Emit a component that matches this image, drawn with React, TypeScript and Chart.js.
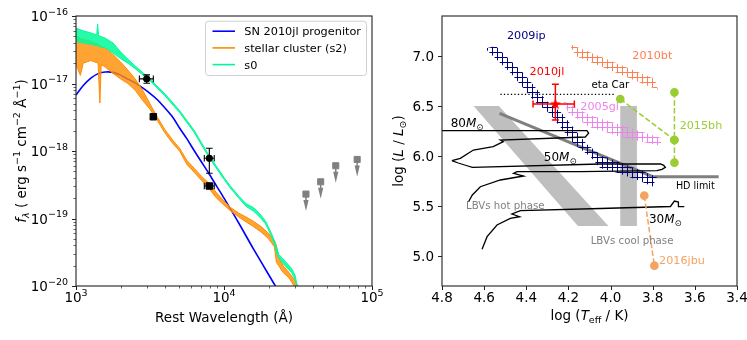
import React, { useEffect, useRef } from 'react';
import { Chart, registerables } from 'chart.js';

Chart.register(...registerables);

const FONT = '"DejaVu Sans", "Liberation Sans", Arial, sans-serif';

// ================= Left panel: SED =================
const wavelengthMajor = [1e3, 1e4, 1e5];
const wavelengthExp = ['3', '4', '5'];
const fluxMajor = [1e-20, 1e-19, 1e-18, 1e-17, 1e-16];
const fluxExp = ['−20', '−19', '−18', '−17', '−16'];

// SN 2010jl progenitor (blue)
const progWave = [1000, 1120, 1260, 1410, 1580, 1780, 2000, 2240, 2510, 2820, 3160, 3550, 3980, 4470, 5010, 5620, 6310, 7080, 7940, 8910, 10000, 12600, 15800, 20000, 23400];
const progFlux = [6.76e-18, 9.33e-18, 1.2e-17, 1.4e-17, 1.48e-17, 1.46e-17, 1.33e-17, 1.16e-17, 1.02e-17, 8.61e-18, 7.16e-18, 5.75e-18, 4.37e-18, 3.24e-18, 2.19e-18, 1.51e-18, 1.0e-18, 6.76e-19, 4.57e-19, 3.02e-19, 2.0e-19, 8.51e-20, 3.55e-20, 1.48e-20, 8.3e-21];

// stellar cluster (s2) (orange) - noisy spectrum envelope
const s2Wave = [1000, 1070, 1120, 1260, 1410, 1450, 1480, 1580, 1780, 2000, 2240, 2510, 2820, 3160, 3550, 3980, 4470, 5010, 5620, 6310, 7080, 7940, 8910, 10000, 10960, 12600, 14100, 15800, 17800, 20000, 21900, 22600, 23400, 25100, 27500, 30200, 31600];
const s2Upper = [5.01e-17, 4.68e-17, 4.47e-17, 4.27e-17, 3.8e-17, 3.63e-17, 3.55e-17, 3.31e-17, 2.69e-17, 2.09e-17, 1.58e-17, 1.17e-17, 7.94e-18, 5.01e-18, 3.16e-18, 2.09e-18, 1.48e-18, 1.1e-18, 7.24e-19, 5.5e-19, 4.17e-19, 3.31e-19, 2.4e-19, 1.82e-19, 1.48e-19, 1.2e-19, 1.05e-19, 9.12e-20, 7.59e-20, 6.03e-20, 4.68e-20, 3.98e-20, 2.63e-20, 2.0e-20, 1.58e-20, 1.2e-20, 1.0e-20];
const s2Lower = [1.91e-17, 1.32e-17, 2.0e-17, 2.19e-17, 2.0e-17, 5.13e-18, 1.91e-17, 1.74e-17, 1.41e-17, 1.17e-17, 1.0e-17, 7.94e-18, 5.62e-18, 4.17e-18, 2.82e-18, 1.86e-18, 1.32e-18, 1.0e-18, 6.31e-19, 4.79e-19, 3.63e-19, 2.75e-19, 2.0e-19, 1.58e-19, 1.32e-19, 1.05e-19, 8.91e-20, 7.59e-20, 6.31e-20, 5.01e-20, 3.8e-20, 2.24e-20, 2.0e-20, 1.58e-20, 1.32e-20, 9.5e-21, 7.9e-21];

// s0 (green) - noisy spectrum envelope
const s0Wave = [1000, 1120, 1260, 1380, 1400, 1420, 1580, 1780, 2000, 2240, 2510, 3160, 3980, 5010, 6310, 7940, 10000, 10960, 12600, 14100, 15800, 16600, 17800, 19100, 20900, 22100, 22600, 23400, 25100, 28600, 30200, 31600];
const s0Upper = [6.61e-17, 6.03e-17, 5.62e-17, 5.25e-17, 7.59e-17, 5.13e-17, 4.68e-17, 3.98e-17, 2.95e-17, 2.29e-17, 1.82e-17, 1.17e-17, 7.08e-18, 3.98e-18, 2.0e-18, 8.51e-19, 4.07e-19, 3.09e-19, 2.14e-19, 1.66e-19, 1.45e-19, 1.32e-19, 1.12e-19, 9.12e-20, 6.03e-20, 4.47e-20, 3.8e-20, 2.95e-20, 2.51e-20, 1.82e-20, 1.45e-20, 8.9e-21];
const s0Lower = [4.17e-17, 3.98e-17, 3.8e-17, 3.63e-17, 3.63e-17, 3.55e-17, 3.39e-17, 2.82e-17, 2.34e-17, 2.0e-17, 1.66e-17, 1.1e-17, 6.61e-18, 3.72e-18, 1.86e-18, 7.94e-19, 3.8e-19, 2.88e-19, 2.0e-19, 1.51e-19, 1.29e-19, 1.17e-19, 1.0e-19, 8.32e-20, 5.5e-20, 3.98e-20, 3.16e-20, 2.63e-20, 2.14e-20, 1.58e-20, 1.26e-20, 8.3e-21];

// photometry (black circles with error bars)
const detWave = [3005, 7960];
const detFlux = [1.17e-17, 7.8e-19];
const detWaveLo = [2680, 7360];
const detWaveHi = [3330, 8590];
const detFluxLo = [1.01e-17, 4.68e-19];
const detFluxHi = [1.34e-17, 1.1e-18];
// photometry (black squares)
const sqWave = [3330, 7960];
const sqFlux = [3.22e-18, 3.03e-19];
const sqWaveLo = [3330, 7360];
const sqWaveHi = [3330, 8590];
// upper limits (grey squares with arrows)
const limWave = [35800, 45000, 56900, 79400];
const limFlux = [2.3e-19, 3.5e-19, 6.05e-19, 7.5e-19];

const legendLabels = ['SN 2010jl progenitor', 'stellar cluster (s2)', 's0'];

// ================= Right panel: HRD =================
const teffTicks = [4.8, 4.6, 4.4, 4.2, 4.0, 3.8, 3.6, 3.4];
const lumTicks = [5.0, 5.5, 6.0, 6.5, 7.0];

const track80T = [4.82, 4.112, 4.104, 4.12, 4.523, 4.509, 4.557, 4.651, 4.713, 4.753];
const track80L = [6.253, 6.253, 6.227, 6.19, 6.16, 6.143, 6.093, 6.06, 5.977, 5.953];
const track50T = [4.753, 4.723, 4.685, 4.656, 4.049, 3.763, 3.748, 3.74, 3.756, 3.78, 4.144, 4.444, 4.46, 4.413, 4.523, 4.618, 4.656, 4.674];
const track50L = [5.953, 5.93, 5.905, 5.887, 5.92, 5.92, 5.907, 5.887, 5.867, 5.853, 5.843, 5.843, 5.827, 5.8, 5.76, 5.693, 5.61, 5.543];
const track30T = [4.61, 4.586, 4.539, 4.476, 4.432, 4.468, 4.428, 4.049, 3.716, 3.697, 3.678, 3.678, 3.65];
const track30L = [5.067, 5.193, 5.31, 5.377, 5.393, 5.42, 5.453, 5.475, 5.495, 5.55, 5.54, 5.495, 5.493];

const hdT = [4.527, 3.8, 3.487];
const hdL = [6.427, 5.793, 5.793];
const etaT = [4.523, 3.977];
const etaL = [6.617, 6.617];

const hotT = [4.65, 4.53, 4.01, 4.155];
const hotL = [6.5, 6.5, 5.3, 5.3];
const coolT = [3.954, 3.875, 3.875, 3.954];
const coolL = [6.5, 6.5, 5.3, 5.3];

const ipT = [4.545, 4.414, 4.303, 4.232, 4.114, 4.034, 4.015, 3.954, 3.867, 3.78, 3.8, 3.867, 3.954, 4.05, 4.094, 4.174, 4.292, 4.363, 4.474, 4.595];
const ipL = [7.1, 6.83, 6.55, 6.43, 6.12, 5.99, 5.985, 5.932, 5.865, 5.79, 5.695, 5.755, 5.822, 5.88, 5.99, 6.12, 6.43, 6.55, 6.83, 7.075];
const btT = [4.195, 3.79, 3.775, 4.165];
const btL = [7.12, 6.77, 6.66, 7.0];
const glT = [4.225, 4.1, 3.95, 3.76, 3.76, 3.95, 4.1, 4.2];
const glL = [6.55, 6.41, 6.31, 6.18, 6.1, 6.19, 6.29, 6.43];

const jlT = [4.262];
const jlL = [6.52];
const jlTLo = [4.172];
const jlTHi = [4.368];
const jlLLo = [6.36];
const jlLHi = [6.717];

const bhT = [3.954, 3.697, 3.697, 3.697];
const bhL = [6.57, 6.637, 6.16, 5.933];
const jbuT = [3.84, 3.792];
const jbuL = [5.603, 4.903];

// ================= helpers =================
type Seg = { t: string; s?: number; dy?: number; it?: boolean };

function fontOf(sg: Seg, base: number) {
  return `${sg.it ? 'italic ' : ''}${sg.s ?? base}px ${FONT}`;
}

function drawRich(ctx: CanvasRenderingContext2D, segs: Seg[], x: number, y: number, align: 'left' | 'center' | 'right', base: number) {
  let w = 0;
  for (const sg of segs) {
    ctx.font = fontOf(sg, base);
    w += ctx.measureText(sg.t).width;
  }
  let cx = align === 'center' ? x - w / 2 : align === 'right' ? x - w : x;
  ctx.textAlign = 'left';
  ctx.textBaseline = 'alphabetic';
  for (const sg of segs) {
    ctx.font = fontOf(sg, base);
    ctx.fillText(sg.t, cx, y + (sg.dy ?? 0));
    cx += ctx.measureText(sg.t).width;
  }
}

const pts = (xs: number[], ys: number[]) => xs.map((x, i) => ({ x, y: ys[i] }));

interface AxesCfg {
  xMajor: number[];
  xMinor: number[];
  yMajor: number[];
  yMinor: number[];
  xLabels: Seg[][];
  yLabels: Seg[][];
  xTitle: Seg[];
  yTitle: Seg[];
  xTitleDy: number;
  yTitleDx: number;
}

function axesPlugin(cfg: AxesCfg) {
  return {
    id: 'mplAxes',
    afterDraw(chart: any) {
      const { ctx, chartArea: a, scales } = chart;
      const xs = scales.x;
      const ys = scales.y;
      ctx.save();
      ctx.strokeStyle = '#222';
      ctx.fillStyle = '#000';
      ctx.lineWidth = 1.1;
      ctx.strokeRect(a.left, a.top, a.right - a.left, a.bottom - a.top);
      ctx.lineWidth = 1;
      ctx.beginPath();
      for (const v of cfg.xMajor) {
        const p = Math.round(xs.getPixelForValue(v)) + 0.5;
        ctx.moveTo(p, a.bottom);
        ctx.lineTo(p, a.bottom + 4);
      }
      for (const v of cfg.yMajor) {
        const p = Math.round(ys.getPixelForValue(v)) + 0.5;
        ctx.moveTo(a.left, p);
        ctx.lineTo(a.left - 4, p);
      }
      ctx.stroke();
      ctx.lineWidth = 0.7;
      ctx.beginPath();
      for (const v of cfg.xMinor) {
        const p = Math.round(xs.getPixelForValue(v)) + 0.5;
        ctx.moveTo(p, a.bottom);
        ctx.lineTo(p, a.bottom + 2.5);
      }
      for (const v of cfg.yMinor) {
        const p = Math.round(ys.getPixelForValue(v)) + 0.5;
        ctx.moveTo(a.left, p);
        ctx.lineTo(a.left - 2.5, p);
      }
      ctx.stroke();
      cfg.xMajor.forEach((v, i) => drawRich(ctx, cfg.xLabels[i], xs.getPixelForValue(v), a.bottom + 16, 'center', 13.5));
      cfg.yMajor.forEach((v, i) => drawRich(ctx, cfg.yLabels[i], a.left - 8, ys.getPixelForValue(v) + 5, 'right', 13.5));
      drawRich(ctx, cfg.xTitle, (a.left + a.right) / 2, a.bottom + cfg.xTitleDy, 'center', 13.5);
      ctx.translate(a.left - cfg.yTitleDx, (a.top + a.bottom) / 2);
      ctx.rotate(-Math.PI / 2);
      drawRich(ctx, cfg.yTitle, 0, 0, 'center', 13.5);
      ctx.restore();
    },
  };
}

const errorPlugin = {
  id: 'errBars',
  beforeDatasetDraw(chart: any, args: any) {
    const ds = chart.data.datasets[args.index];
    const e = ds.err;
    if (!e) return;
    const { ctx, scales } = chart;
    const xs = scales.x;
    const ys = scales.y;
    ctx.save();
    ctx.strokeStyle = e.color;
    ctx.lineWidth = e.width;
    ctx.beginPath();
    ds.data.forEach((p: any, i: number) => {
      const px = xs.getPixelForValue(p.x);
      const py = ys.getPixelForValue(p.y);
      if (e.xLo && e.xLo[i] !== e.xHi[i]) {
        const x1 = xs.getPixelForValue(e.xLo[i]);
        const x2 = xs.getPixelForValue(e.xHi[i]);
        ctx.moveTo(x1, py);
        ctx.lineTo(x2, py);
        ctx.moveTo(x1, py - e.cap);
        ctx.lineTo(x1, py + e.cap);
        ctx.moveTo(x2, py - e.cap);
        ctx.lineTo(x2, py + e.cap);
      }
      if (e.yLo && e.yLo[i] !== e.yHi[i]) {
        const y1 = ys.getPixelForValue(e.yLo[i]);
        const y2 = ys.getPixelForValue(e.yHi[i]);
        ctx.moveTo(px, y1);
        ctx.lineTo(px, y2);
        ctx.moveTo(px - e.cap, y1);
        ctx.lineTo(px + e.cap, y1);
        ctx.moveTo(px - e.cap, y2);
        ctx.lineTo(px + e.cap, y2);
      }
    });
    ctx.stroke();
    ctx.restore();
  },
  afterDatasetDraw(chart: any, args: any) {
    const ds = chart.data.datasets[args.index];
    if (!ds.upperLimit) return;
    const { ctx, scales } = chart;
    ctx.save();
    ctx.fillStyle = ds.backgroundColor;
    ctx.strokeStyle = ds.backgroundColor;
    ctx.lineWidth = 1.5;
    ds.data.forEach((p: any) => {
      const px = scales.x.getPixelForValue(p.x);
      const py = scales.y.getPixelForValue(p.y);
      ctx.beginPath();
      ctx.moveTo(px, py + 3);
      ctx.lineTo(px, py + 7);
      ctx.stroke();
      ctx.beginPath();
      ctx.moveTo(px - 2.6, py + 6);
      ctx.lineTo(px + 2.6, py + 6);
      ctx.lineTo(px, py + 17);
      ctx.closePath();
      ctx.fill();
    });
    ctx.restore();
  },
};

const legendColors = ['#0000ff', '#ff8c00', '#00fa9a'];

const sedLegendPlugin = {
  id: 'sedLegend',
  afterDraw(chart: any) {
    const { ctx, chartArea: a } = chart;
    const x0 = a.right - 167;
    const y0 = a.top + 4.7;
    const w = 161;
    const h = 54.3;
    ctx.save();
    ctx.beginPath();
    (ctx as any).roundRect(x0 + 0.5, y0 + 0.5, w, h, 3);
    ctx.fillStyle = 'rgba(255,255,255,0.85)';
    ctx.fill();
    ctx.strokeStyle = '#d0d0d0';
    ctx.lineWidth = 1;
    ctx.stroke();
    legendLabels.forEach((lab, i) => {
      const y = y0 + 10.5 + i * 16.7;
      ctx.strokeStyle = legendColors[i];
      ctx.lineWidth = 1.6;
      ctx.beginPath();
      ctx.moveTo(x0 + 7.5, y);
      ctx.lineTo(x0 + 30, y);
      ctx.stroke();
      ctx.fillStyle = '#000';
      drawRich(ctx, [{ t: lab }], x0 + 39.3, y + 4, 'left', 11.3);
    });
    ctx.restore();
  },
};

// annotation texts in the HRD (data coordinates)
const hrdText: { segs: Seg[]; t: number; l: number; color: string; size: number }[] = [
  { segs: [{ t: '2009ip' }], t: 4.4, l: 7.213, color: '#000080', size: 11.2 },
  { segs: [{ t: '2010bt' }], t: 3.802, l: 7.01, color: '#ff7f50', size: 11.2 },
  { segs: [{ t: '2010jl' }], t: 4.302, l: 6.853, color: '#ff0000', size: 11.2 },
  { segs: [{ t: 'eta Car' }], t: 4.001, l: 6.72, color: '#000000', size: 10.3 },
  { segs: [{ t: '2005gl' }], t: 4.052, l: 6.5, color: '#ee82ee', size: 11.2 },
  { segs: [{ t: '2015bh' }], t: 3.571, l: 6.31, color: '#9acd32', size: 11.2 },
  { segs: [{ t: '2016jbu' }], t: 3.661, l: 4.96, color: '#f4a460', size: 11.2 },
  { segs: [{ t: 'HD limit' }], t: 3.598, l: 5.7, color: '#000000', size: 9.6 },
  { segs: [{ t: 'LBVs hot phase' }], t: 4.5, l: 5.51, color: '#808080', size: 10.2 },
  { segs: [{ t: 'LBVs cool phase' }], t: 3.898, l: 5.16, color: '#808080', size: 10.2 },
  { segs: [{ t: '80' }, { t: 'M', it: true }, { t: '⊙', s: 8.5, dy: 3 }], t: 4.681, l: 6.333, color: '#000000', size: 12 },
  { segs: [{ t: '50' }, { t: 'M', it: true }, { t: '⊙', s: 8.5, dy: 3 }], t: 4.239, l: 5.993, color: '#000000', size: 12 },
  { segs: [{ t: '30' }, { t: 'M', it: true }, { t: '⊙', s: 8.5, dy: 3 }], t: 3.74, l: 5.377, color: '#000000', size: 12 },
];

const hrdTextPlugin = {
  id: 'hrdText',
  afterDatasetsDraw(chart: any) {
    const { ctx, scales } = chart;
    ctx.save();
    for (const a of hrdText) {
      ctx.fillStyle = a.color;
      drawRich(ctx, a.segs, scales.x.getPixelForValue(a.t), scales.y.getPixelForValue(a.l) + a.size * 0.36, 'center', a.size);
    }
    ctx.restore();
  },
};

function hatch(color: string) {
  const c = document.createElement('canvas');
  c.width = 5;
  c.height = 5;
  const g = c.getContext('2d')!;
  g.strokeStyle = color;
  g.lineWidth = 1;
  g.beginPath();
  g.moveTo(0, 2.5);
  g.lineTo(5, 2.5);
  g.moveTo(2.5, 0);
  g.lineTo(2.5, 5);
  g.stroke();
  return g.createPattern(c, 'repeat')!;
}

function starImage(color: string) {
  const c = document.createElement('canvas');
  c.width = 13;
  c.height = 13;
  const g = c.getContext('2d')!;
  g.fillStyle = color;
  g.beginPath();
  for (let i = 0; i < 10; i++) {
    const r = i % 2 ? 2.4 : 6;
    const ang = -Math.PI / 2 + (i * Math.PI) / 5;
    const px = 6.5 + r * Math.cos(ang);
    const py = 6.8 + r * Math.sin(ang);
    if (i === 0) g.moveTo(px, py);
    else g.lineTo(px, py);
  }
  g.closePath();
  g.fill();
  return c;
}

function range(decades: number[]) {
  const out: number[] = [];
  for (const d of decades) for (let k = 2; k <= 9; k++) out.push(k * d);
  return out;
}

const baseOptions = (padding: any, x: any, y: any) => ({
  animation: false as const,
  responsive: false,
  devicePixelRatio: 1,
  events: [] as any[],
  layout: { padding },
  plugins: { legend: { display: false }, tooltip: { enabled: false } },
  scales: { x: { ...x, display: false }, y: { ...y, display: false } },
});

export default function App() {
  const leftRef = useRef<HTMLCanvasElement>(null);
  const rightRef = useRef<HTMLCanvasElement>(null);

  useEffect(() => {
    const line = (data: any[], color: string, width: number, order: number, extra: any = {}) => ({
      data,
      showLine: true,
      borderColor: color,
      backgroundColor: color,
      borderWidth: width,
      pointRadius: 0,
      order,
      clip: 0,
      ...extra,
    });

    const left = new Chart(leftRef.current!, {
      type: 'scatter',
      data: {
        datasets: [
          {
            data: pts(detWave, detFlux),
            pointStyle: 'circle',
            pointRadius: 3.2,
            backgroundColor: '#000',
            borderColor: '#000',
            order: 0,
            err: { xLo: detWaveLo, xHi: detWaveHi, yLo: detFluxLo, yHi: detFluxHi, color: '#000', width: 1.1, cap: 3.3 },
          } as any,
          {
            data: pts(sqWave, sqFlux),
            pointStyle: 'rect',
            pointRadius: 4.6,
            backgroundColor: '#000',
            borderColor: '#000',
            order: 0,
            err: { xLo: sqWaveLo, xHi: sqWaveHi, color: '#000', width: 1.1, cap: 3.3 },
          } as any,
          {
            data: pts(limWave, limFlux),
            pointStyle: 'rect',
            pointRadius: 4.3,
            backgroundColor: '#808080',
            borderColor: '#808080',
            order: 0,
            upperLimit: true,
          } as any,
          line(pts(s0Wave, s0Upper), '#00fa9a', 1, 1, { fill: '+1', backgroundColor: 'rgba(0,250,154,0.85)' }),
          line(pts(s0Wave, s0Lower), '#00fa9a', 1, 1),
          line(pts(s2Wave, s2Upper), '#ff8c00', 1, 2, { fill: '+1', backgroundColor: 'rgba(255,140,0,0.8)' }),
          line(pts(s2Wave, s2Lower), '#ff8c00', 1, 2),
          line(pts(progWave, progFlux), '#0000ff', 1.6, 3, { tension: 0.3 }),
        ],
      },
      options: baseOptions(
        { left: 76, right: 375, top: 16, bottom: 54 },
        { type: 'logarithmic', min: 1e3, max: 1e5 },
        { type: 'logarithmic', min: 1e-20, max: 1e-16 },
      ) as any,
      plugins: [
        errorPlugin,
        sedLegendPlugin,
        axesPlugin({
          xMajor: wavelengthMajor,
          xMinor: range([1e3, 1e4]),
          yMajor: fluxMajor,
          yMinor: range([1e-20, 1e-19, 1e-18, 1e-17]),
          xLabels: wavelengthExp.map((e) => [{ t: '10' }, { t: e, s: 9.5, dy: -6.5 }]),
          yLabels: fluxExp.map((e) => [{ t: '10' }, { t: e, s: 9.5, dy: -6.5 }]),
          xTitle: [{ t: 'Rest Wavelength (Å)' }],
          yTitle: [
            { t: 'f', it: true },
            { t: 'λ', s: 9.5, dy: 3, it: true },
            { t: ' ( erg s' },
            { t: '−1', s: 9.5, dy: -6 },
            { t: ' cm' },
            { t: '−2', s: 9.5, dy: -6 },
            { t: ' Å' },
            { t: '−1', s: 9.5, dy: -6 },
            { t: ')' },
          ],
          xTitleDy: 36,
          yTitleDx: 50.5,
        }),
      ],
    });

    const star = starImage('#ff0000');
    const right = new Chart(rightRef.current!, {
      type: 'scatter',
      data: {
        datasets: [
          {
            data: pts(jlT, jlL),
            pointStyle: star,
            pointRadius: 6,
            order: 0,
            err: { xLo: jlTLo, xHi: jlTHi, yLo: jlLLo, yHi: jlLHi, color: '#ff0000', width: 1.5, cap: 3.5 },
          } as any,
          line([{ x: bhT[0], y: bhL[0] }, { x: bhT[2], y: bhL[2] }], '#9acd32', 1.5, 1, { borderDash: [5.5, 2.4], pointRadius: 3.6 }),
          line([{ x: bhT[1], y: bhL[1] }, { x: bhT[2], y: bhL[2] }, { x: bhT[3], y: bhL[3] }], '#9acd32', 1.5, 1, { borderDash: [5.5, 2.4], pointRadius: 3.6 }),
          line(pts(jbuT, jbuL), '#f4a460', 1.5, 1, { borderDash: [5.5, 2.4], pointRadius: 3.6 }),
          line(pts(etaT, etaL), '#000000', 1.3, 2, { borderDash: [1.3, 2.2] }),
          line(pts(track80T, track80L), '#000000', 1.3, 3),
          line(pts(track50T, track50L), '#000000', 1.3, 3),
          line(pts(track30T, track30L), '#000000', 1.3, 3),
          line(pts(ipT, ipL), 'rgba(0,0,0,0)', 0, 4, { fill: 'shape', backgroundColor: hatch('#000080') }),
          line(pts(btT, btL), 'rgba(0,0,0,0)', 0, 4, { fill: 'shape', backgroundColor: hatch('#ff7f50') }),
          line(pts(glT, glL), 'rgba(0,0,0,0)', 0, 4, { fill: 'shape', backgroundColor: hatch('#ee82ee') }),
          line(pts(hdT, hdL), '#808080', 3, 5),
          line(pts(hotT, hotL), 'rgba(0,0,0,0)', 0, 6, { fill: 'shape', backgroundColor: '#bfbfbf' }),
          line(pts(coolT, coolL), 'rgba(0,0,0,0)', 0, 6, { fill: 'shape', backgroundColor: '#bfbfbf' }),
        ],
      },
      options: baseOptions(
        { left: 442, right: 10, top: 16, bottom: 54 },
        { type: 'linear', min: 3.4, max: 4.8, reverse: true },
        { type: 'linear', min: 4.7, max: 7.4 },
      ) as any,
      plugins: [
        errorPlugin,
        hrdTextPlugin,
        axesPlugin({
          xMajor: teffTicks,
          xMinor: [],
          yMajor: lumTicks,
          yMinor: [],
          xLabels: teffTicks.map((v) => [{ t: v.toFixed(1) }]),
          yLabels: lumTicks.map((v) => [{ t: v.toFixed(1) }]),
          xTitle: [{ t: 'log (' }, { t: 'T', it: true }, { t: 'eff', s: 9.5, dy: 3 }, { t: ' / K)' }],
          yTitle: [{ t: 'log (' }, { t: 'L', it: true }, { t: ' / ' }, { t: 'L', it: true }, { t: '⊙', s: 9.5, dy: 3 }, { t: ')' }],
          xTitleDy: 33.5,
          yTitleDx: 39,
        }),
      ],
    });

    return () => {
      left.destroy();
      right.destroy();
    };
  }, []);

  return (
    <div style={{ position: 'fixed', left: 0, top: 0, width: 747, height: 340, background: '#ffffff' }}>
      <canvas ref={leftRef} width={747} height={340} style={{ position: 'absolute', left: 0, top: 0 }} />
      <canvas ref={rightRef} width={747} height={340} style={{ position: 'absolute', left: 0, top: 0 }} />
    </div>
  );
}
